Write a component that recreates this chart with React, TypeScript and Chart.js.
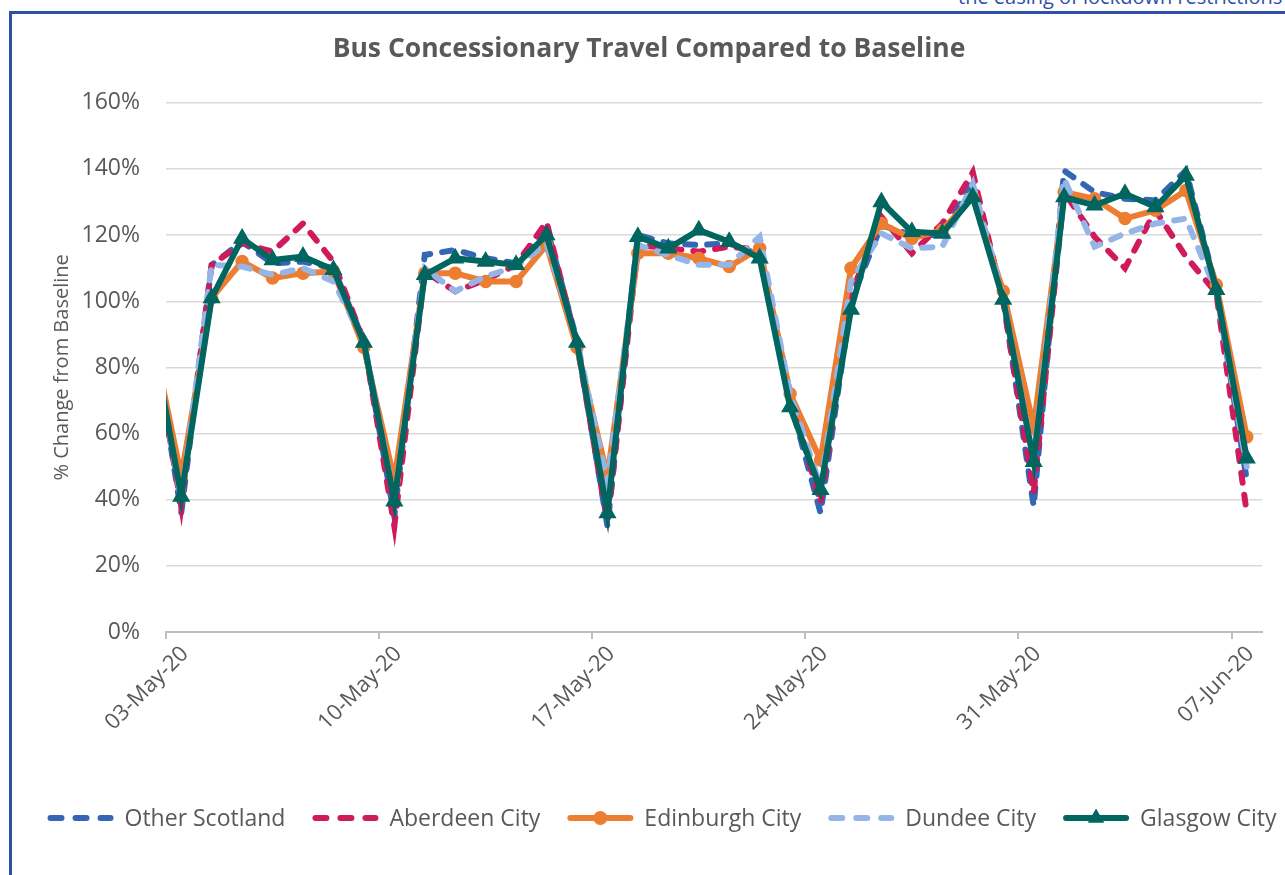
import React, { useEffect, useRef } from 'react';
import { Chart, registerables } from 'chart.js';

Chart.register(...registerables);

// ---------- data ----------
const DATES = [
  '02-May-20', '03-May-20', '04-May-20', '05-May-20', '06-May-20', '07-May-20', '08-May-20', '09-May-20', '10-May-20', '11-May-20',
  '12-May-20', '13-May-20', '14-May-20', '15-May-20', '16-May-20', '17-May-20', '18-May-20', '19-May-20', '20-May-20', '21-May-20',
  '22-May-20', '23-May-20', '24-May-20', '25-May-20', '26-May-20', '27-May-20', '28-May-20', '29-May-20', '30-May-20', '31-May-20',
  '01-Jun-20', '02-Jun-20', '03-Jun-20', '04-Jun-20', '05-Jun-20', '06-Jun-20', '07-Jun-20',
];

const X_TICK_LABELS = ['03-May-20', '10-May-20', '17-May-20', '24-May-20', '31-May-20', '07-Jun-20'];
const AXIS_START = '03-May-20';
const AXIS_END = '07-Jun-20';

const OTHER_SCOTLAND = [95, 36, 111, 118, 111.5, 112, 110, 88, 35, 114, 115.5, 113, 111.5, 122.5, 88, 32, 120, 117.5, 117, 117.5, 114, 70, 36, 100, 123, 120, 120, 136, 101, 38, 139.5, 133, 131, 130.5, 139.5, 104, 46];
const ABERDEEN_CITY = [93, 38, 111, 117.5, 115, 123.5, 112, 88, 32, 109, 103, 106.5, 111, 124, 87, 33, 117, 116, 115, 116.5, 115.5, 72, 39, 102, 125.5, 114.5, 123.5, 139, 100, 42, 133, 119.5, 110, 127.5, 113.5, 102.5, 36];
const EDINBURGH_CITY = [92, 47, 101, 112, 107, 108.5, 109, 86, 46, 108.5, 108.5, 106, 106, 117, 86, 47, 114.5, 114.5, 113, 110.5, 116, 72, 52, 110, 123.5, 119, 121.5, 131.5, 103, 62, 133, 131, 125, 127.5, 133.5, 105, 59];
const DUNDEE_CITY = [92, 40, 111, 110.5, 108, 110, 106, 88, 40, 110, 103, 107.5, 110.5, 117.5, 88, 45, 117, 114, 111, 111, 119.5, 72, 44, 106, 120.5, 116, 116.5, 135.5, 101, 52, 137, 116.5, 120.5, 123.5, 125, 103, 50];
const GLASGOW_CITY = [92, 41, 101, 119, 112.5, 113.5, 109.5, 87.5, 39.5, 108, 113, 112, 111, 120, 87.5, 36, 119.5, 116, 121.5, 118, 113, 68, 43, 97.5, 130, 121, 120.5, 131.5, 100.5, 51.5, 131.5, 129, 132.5, 128.5, 138, 103.5, 52.5];

const SERIES_NAMES = ['Other Scotland', 'Aberdeen City', 'Edinburgh City', 'Dundee City', 'Glasgow City'];

const Y_MIN = 0;
const Y_MAX = 160;
const Y_STEP = 20;

const TITLE = 'Bus Concessionary Travel Compared to Baseline';
const Y_TITLE = '% Change from Baseline';

// ---------- styles ----------
const FONT = '"Open Sans", "Noto Sans", sans-serif';
const TEXT_COLOR = '#595959';
const LINE_W = 6;
const DASH = [10, 12];

const startIdx = DATES.indexOf(AXIS_START);
const dayOf = (label: string) => DATES.indexOf(label) - startIdx;

const toPoints = (vals: number[]) => vals.map((v, i) => ({ x: i - startIdx, y: v }));

const legendPlugin = {
  id: 'excelLegend',
  afterDraw(chart: any) {
    const ctx = chart.ctx as CanvasRenderingContext2D;
    const ds = chart.data.datasets;
    const size = 23;
    const sample = 66;
    const gapText = 11;
    const gapItem = 27;
    const cy = 818;
    const cx = 662;
    ctx.save();
    ctx.font = `${size}px ${FONT}`;
    ctx.textBaseline = 'middle';
    const widths = ds.map((d: any) => ctx.measureText(d.label).width);
    const total = widths.reduce((s: number, w: number) => s + sample + gapText + w, 0) + gapItem * (ds.length - 1);
    let x = cx - total / 2;
    ds.forEach((d: any, k: number) => {
      ctx.strokeStyle = d.borderColor;
      ctx.lineWidth = LINE_W;
      ctx.lineCap = 'round';
      ctx.setLineDash(d.borderDash && d.borderDash.length ? [11, 14] : []);
      ctx.beginPath();
      ctx.moveTo(x + LINE_W / 2, cy);
      ctx.lineTo(x + sample - LINE_W / 2, cy);
      ctx.stroke();
      ctx.setLineDash([]);
      const mx = x + sample / 2;
      if (d.pointRadius > 0) {
        ctx.fillStyle = d.pointBackgroundColor;
        ctx.beginPath();
        if (d.pointStyle === 'triangle') {
          const r = d.pointRadius + 0.5;
          for (let a = 0; a < 3; a++) {
            const ang = (a * 2 * Math.PI) / 3;
            const px = mx + Math.sin(ang) * r;
            const py = cy - Math.cos(ang) * r;
            if (a === 0) ctx.moveTo(px, py);
            else ctx.lineTo(px, py);
          }
          ctx.closePath();
        } else {
          ctx.arc(mx, cy, d.pointRadius + 1, 0, Math.PI * 2);
        }
        ctx.fill();
      }
      ctx.fillStyle = TEXT_COLOR;
      ctx.textAlign = 'left';
      ctx.fillText(d.label, x + sample + gapText, cy + 1);
      x += sample + gapText + widths[k] + gapItem;
    });
    ctx.restore();
  },
};

export default function App() {
  const ref = useRef<HTMLCanvasElement | null>(null);

  useEffect(() => {
    if (!ref.current) return;
    const dashed = (label: string, color: string, vals: number[], order: number) => ({
      label,
      data: toPoints(vals),
      borderColor: color,
      backgroundColor: color,
      borderWidth: LINE_W,
      borderDash: DASH,
      borderCapStyle: 'round',
      pointRadius: 0,
      pointHoverRadius: 0,
      pointBackgroundColor: color,
      tension: 0,
      order,
    });
    const chart = new Chart(ref.current, {
      type: 'line',
      data: {
        datasets: [
          dashed(SERIES_NAMES[0], '#3466b4', OTHER_SCOTLAND, 5),
          dashed(SERIES_NAMES[1], '#cf1a5c', ABERDEEN_CITY, 4),
          {
            label: SERIES_NAMES[2],
            data: toPoints(EDINBURGH_CITY),
            borderColor: '#ed7d31',
            backgroundColor: '#ed7d31',
            borderWidth: LINE_W,
            pointStyle: 'circle',
            pointRadius: 6,
            pointBorderWidth: 1.5,
            pointBackgroundColor: '#ed7d31',
            pointBorderColor: '#ed7d31',
            tension: 0,
            order: 3,
          },
          dashed(SERIES_NAMES[3], '#95b5e6', DUNDEE_CITY, 2),
          {
            label: SERIES_NAMES[4],
            data: toPoints(GLASGOW_CITY),
            borderColor: '#00665f',
            backgroundColor: '#00665f',
            borderWidth: LINE_W,
            pointStyle: 'triangle',
            pointRadius: 9,
            pointBorderWidth: 1.5,
            pointBackgroundColor: '#00665f',
            pointBorderColor: '#00665f',
            tension: 0,
            order: 1,
          },
        ] as any,
      },
      options: {
        responsive: false,
        animation: false,
        events: [],
        layout: { padding: { left: 36, right: 23, top: 0, bottom: 100 } },
        plugins: {
          legend: { display: false },
          tooltip: { enabled: false },
          title: {
            display: true,
            text: TITLE,
            color: TEXT_COLOR,
            font: { family: FONT, size: 26.5, weight: 'bold' },
            padding: { top: 34, bottom: 37 },
          },
        },
        scales: {
          x: {
            type: 'linear',
            min: dayOf(AXIS_START) - 0.5,
            max: dayOf(AXIS_END) + 0.5,
            afterBuildTicks: (scale: any) => {
              scale.ticks = X_TICK_LABELS.map((l) => ({ value: dayOf(l) - 0.5 }));
            },
            afterFit: (scale: any) => {
              scale.height = 143;
            },
            grid: {
              drawOnChartArea: false,
              drawTicks: true,
              tickLength: 7,
              color: '#bfbfbf',
              lineWidth: 2,
            },
            border: { display: true, color: '#bfbfbf', width: 2 },
            ticks: {
              autoSkip: false,
              minRotation: 45,
              maxRotation: 45,
              labelOffset: 19,
              padding: 2,
              color: TEXT_COLOR,
              font: { family: FONT, size: 22 },
              callback: (_v: any, i: number) => X_TICK_LABELS[i],
            },
          },
          y: {
            min: Y_MIN,
            max: Y_MAX,
            afterFit: (scale: any) => {
              scale.width = 130;
            },
            grid: { color: '#d9d9d9', lineWidth: 1.5, drawTicks: false },
            border: { display: false },
            ticks: {
              stepSize: Y_STEP,
              padding: 26,
              color: TEXT_COLOR,
              font: { family: FONT, size: 23 },
              callback: (v: any) => `${v}%`,
            },
            title: {
              display: true,
              text: Y_TITLE,
              color: TEXT_COLOR,
              font: { family: FONT, size: 20 },
              padding: { top: 14, bottom: 0 },
            },
          },
        },
      } as any,
      plugins: [legendPlugin],
    });
    return () => chart.destroy();
  }, []);

  return (
    <div
      style={{
        position: 'fixed',
        left: 0,
        top: 0,
        width: 1285,
        height: 875,
        overflow: 'hidden',
        background: '#ffffff',
      }}
    >
      <div
        style={{
          position: 'absolute',
          left: 958,
          top: -17,
          whiteSpace: 'nowrap',
          fontFamily: FONT,
          fontSize: 20,
          color: '#2f4ea8',
        }}
      >
        the easing of lockdown restrictions
      </div>
      <div
        style={{
          position: 'absolute',
          left: 9,
          top: 11,
          width: 1400,
          height: 1000,
          borderLeft: '3px solid #3050a8',
          borderTop: '3px solid #3050a8',
        }}
      />
      <canvas
        ref={ref}
        width={1285}
        height={875}
        style={{ position: 'absolute', left: 0, top: 0, width: 1285, height: 875 }}
      />
    </div>
  );
}
